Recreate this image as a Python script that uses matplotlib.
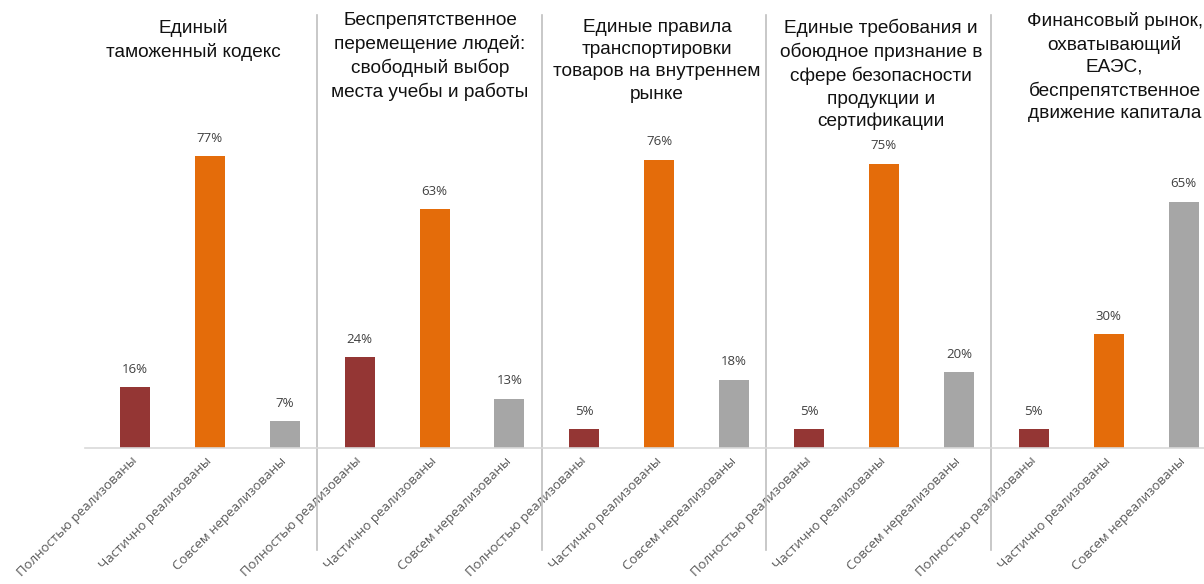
import numpy as np
import matplotlib
matplotlib.use('Agg')
import matplotlib.pyplot as plt

# Data
groups = [
    'Единый\nтаможенный кодекс',
    'Беспрепятственное\nперемещение людей:\nсвободный выбор\nместа учебы и работы',
    'Единые правила\nтранспортировки\nтоваров на внутреннем\nрынке',
    'Единые требования и\nобоюдное признание в\nсфере безопасности\nпродукции и\nсертификации',
    'Финансовый рынок,\nохватывающий\nЕАЭС,\nбеспрепятственное\nдвижение капитала',
]
categories = ['Полностью реализованы', 'Частично реализованы', 'Совсем нереализованы']
fully = [16, 24, 5, 5, 5]
partly = [77, 63, 76, 75, 30]
not_done = [7, 13, 18, 20, 65]

colors = ['#943634', '#E46C0A', '#A6A6A6']


def main():
    fig = plt.figure(figsize=(12.04, 5.84), dpi=100)
    W, H = 1204, 584
    # axes: baseline at y=448px, 3.79 px per percent
    left_px, right_px = 84.8, 1221.0
    base_px, top_px = 448, 448 - 100 * 3.79
    ax = fig.add_axes([left_px / W, (H - base_px) / H,
                       (right_px - left_px) / W, (base_px - top_px) / H])

    values = []
    for f, p, n in zip(fully, partly, not_done):
        values += [f, p, n]
    x = np.arange(len(values))
    bar_colors = colors * len(groups)
    ax.bar(x, values, width=0.4, color=bar_colors)

    for xi, v in zip(x, values):
        ax.annotate(f'{v}%', (xi, v), xytext=(0, 18), textcoords='offset pixels',
                    ha='center', va='center', fontsize=9.5, color='#404040',
                    family='Open Sans')

    ax.set_xlim(-0.67, 14.5)
    ax.set_ylim(0, 100)
    ax.set_yticks([])
    for s in ['top', 'right', 'left']:
        ax.spines[s].set_visible(False)
    ax.spines['bottom'].set_color('#D9D9D9')
    ax.spines['bottom'].set_linewidth(1.2)

    ax.set_xticks(x)
    ax.set_xticklabels(categories * len(groups), rotation=45, ha='right',
                       va='center', rotation_mode='anchor', fontsize=9.5,
                       color='#595959', family='Open Sans')
    ax.tick_params(axis='x', length=0, pad=8)

    # vertical separators between groups
    for g in range(1, len(groups)):
        xs = 3 * g - 0.5 - 0.07
        ax.axvline(xs, ymin=(448 - 550) / 379, ymax=(448 - 15) / 379,
                   color='#BFBFBF', linewidth=1.2, clip_on=False)

    # group titles
    title_tops = [19, 12, 19, 19, 12]
    title_shift = [-0.22, -0.06, -0.03, -0.04, 0.08]
    for g, name in enumerate(groups):
        cx = 3 * g + 1 + title_shift[g]
        fig.text(ax.transData.transform((cx, 0))[0] / W, 1 - title_tops[g] / H,
                 name, ha='center', va='top', fontsize=13.7,
                 family='Liberation Sans', color='#111111', linespacing=1.4)

    fig.savefig('out.png', dpi=100)


if __name__ == '__main__':
    main()
